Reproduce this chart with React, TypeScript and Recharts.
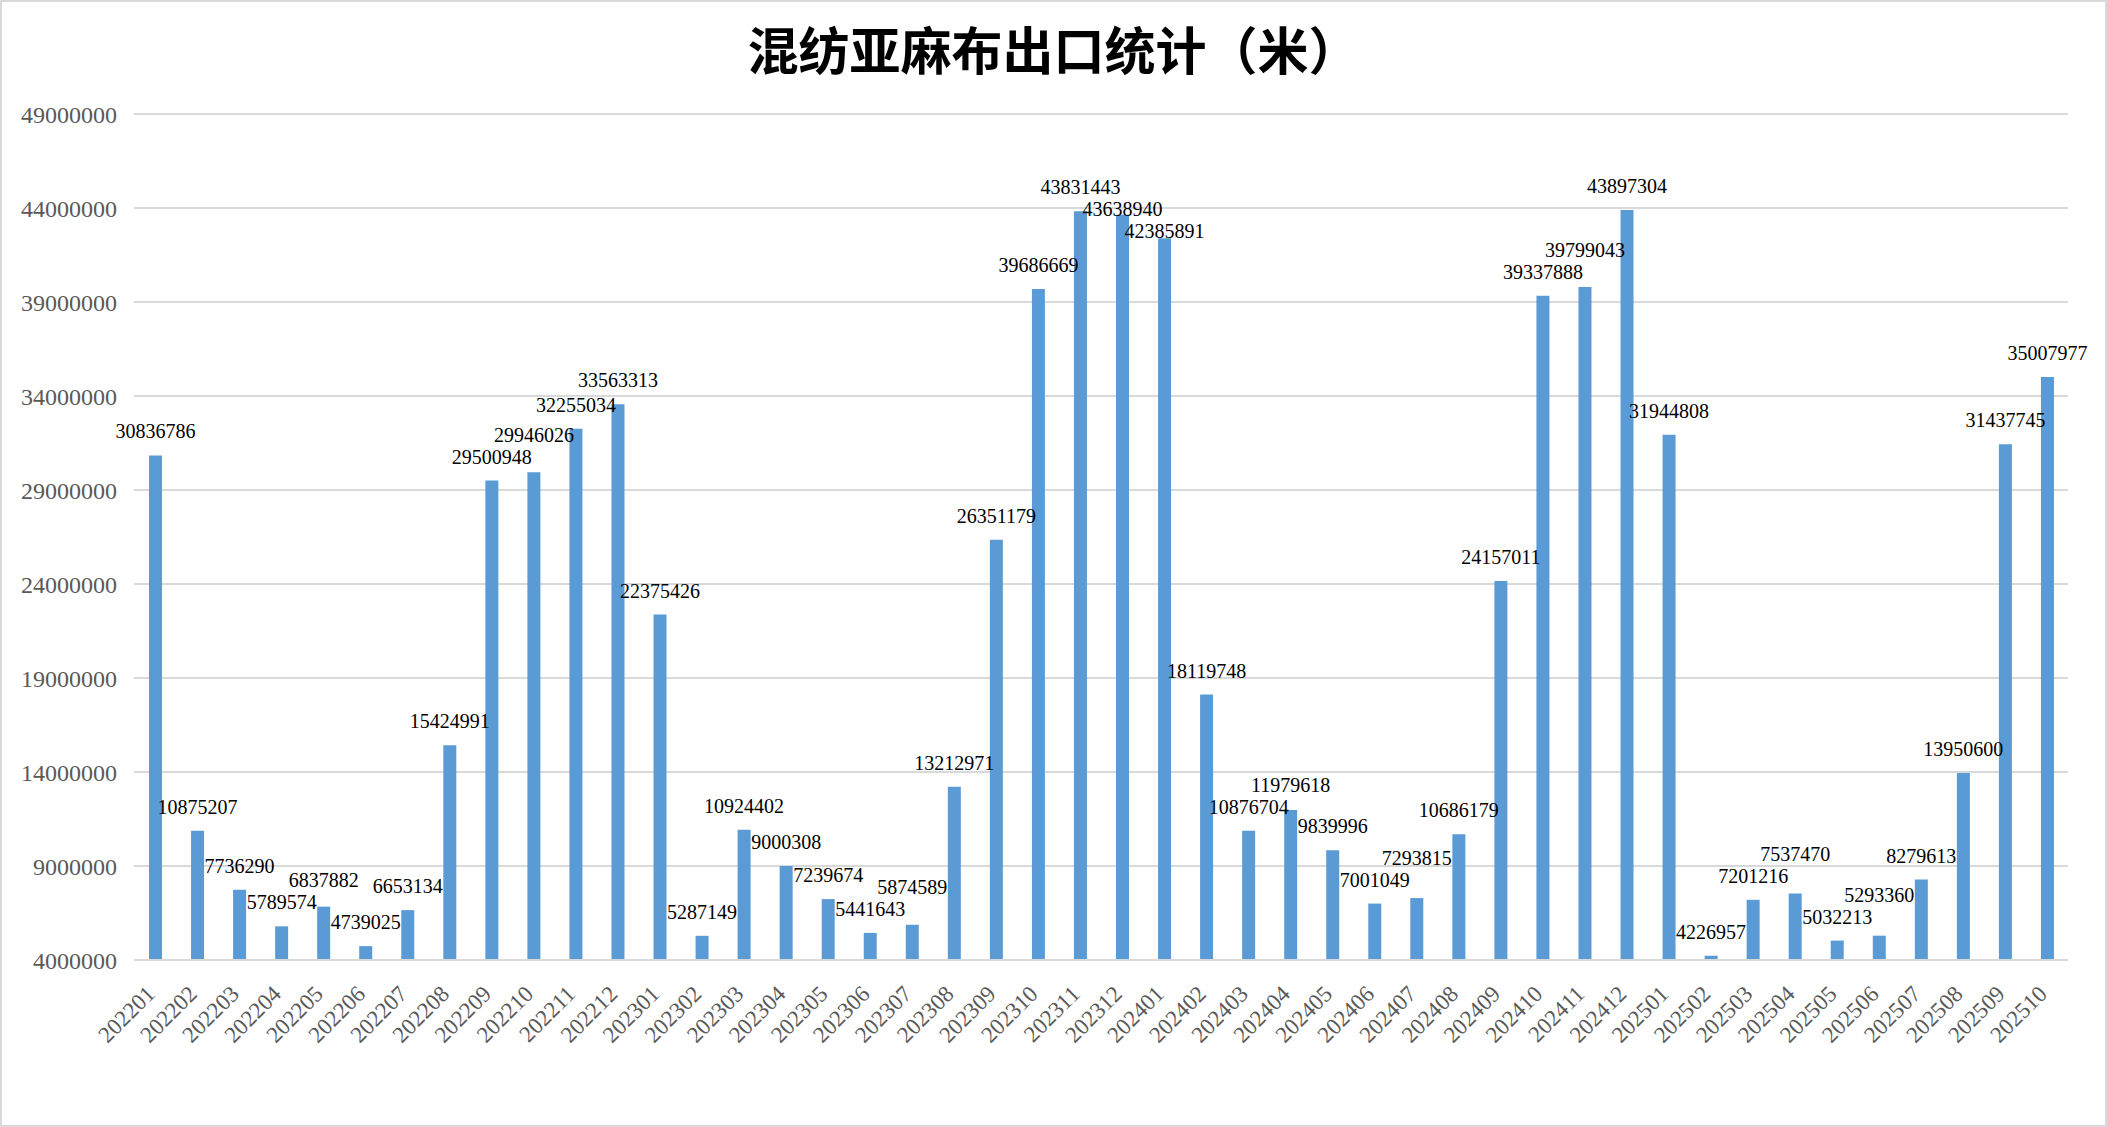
import { Bar, BarChart, CartesianGrid, LabelList, XAxis, YAxis } from "recharts";

const months = [
  "202201", "202202", "202203", "202204", "202205", "202206", "202207", "202208", "202209", "202210", "202211", "202212",
  "202301", "202302", "202303", "202304", "202305", "202306", "202307", "202308", "202309", "202310", "202311", "202312",
  "202401", "202402", "202403", "202404", "202405", "202406", "202407", "202408", "202409", "202410", "202411", "202412",
  "202501", "202502", "202503", "202504", "202505", "202506", "202507", "202508", "202509", "202510",
];

const meters = [
  30836786, 10875207, 7736290, 5789574, 6837882, 4739025, 6653134, 15424991, 29500948, 29946026, 32255034, 33563313,
  22375426, 5287149, 10924402, 9000308, 7239674, 5441643, 5874589, 13212971, 26351179, 39686669, 43831443, 43638940,
  42385891, 18119748, 10876704, 11979618, 9839996, 7001049, 7293815, 10686179, 24157011, 39337888, 39799043, 43897304,
  31944808, 4226957, 7201216, 7537470, 5032213, 5293360, 8279613, 13950600, 31437745, 35007977,
];

const yTicks = [4000000, 9000000, 14000000, 19000000, 24000000, 29000000, 34000000, 39000000, 44000000, 49000000];

const data = months.map((m, i) => ({ m, v: meters[i] }));

const FONT = "'Liberation Serif', serif";
const LABEL_GAP = 24; // label centre above bar top
const LABEL_STEP = 22; // min vertical distance between neighbouring labels

function MonthTick({ x, y, payload }: any) {
  const ax = x - 4;
  const ay = y + 22;
  return (
    <text
      x={ax}
      y={ay}
      transform={`rotate(-45, ${ax}, ${ay})`}
      textAnchor="end"
      dominantBaseline="central"
      fill="#595959"
      fontSize={23}
      fontFamily={FONT}
    >
      {payload.value}
    </text>
  );
}

// nudge a label up or down when it would sit on top of its left neighbour
function makeLabel(placed: number[]) {
  return (p: any) => {
    const { x, y, width, value, index } = p;
    let cy = y - LABEL_GAP;
    const prev = placed[index - 1];
    if (prev !== undefined && Math.abs(cy - prev) < LABEL_STEP) {
      cy = cy < prev ? prev - LABEL_STEP : prev + LABEL_STEP;
    }
    placed[index] = cy;
    return (
      <text
        key={index}
        x={x + width / 2}
        y={cy}
        textAnchor="middle"
        dominantBaseline="central"
        fill="#000"
        fontSize={20}
        fontFamily={FONT}
      >
        {value}
      </text>
    );
  };
}

export default function App() {
  const placed: number[] = [];
  return (
    <div style={{ position: "absolute", left: 0, top: 0, width: 2107, height: 1127, background: "#fff" }}>
      <style>{`body{margin:0}`}</style>
      <div
        style={{
          position: "absolute",
          left: 0,
          top: 0,
          width: 2107,
          height: 1127,
          boxSizing: "border-box",
          border: "2px solid #d9d9d9",
        }}
      />
      <div
        style={{
          position: "absolute",
          left: 0,
          top: 16,
          width: 2107,
          textAlign: "center",
          fontFamily: "'Noto Sans CJK SC', sans-serif",
          fontWeight: 700,
          fontSize: 51,
          lineHeight: "64px",
          color: "#000",
        }}
      >
        混纺亚麻布出口统计（米）
      </div>
      <BarChart
        width={2107}
        height={1127}
        data={data}
        margin={{ top: 114, right: 39, left: 14, bottom: 7 }}
        style={{ position: "absolute", left: 0, top: 0 }}
      >
        <CartesianGrid vertical={false} stroke="#d9d9d9" strokeWidth={2} />
        <XAxis
          dataKey="m"
          interval={0}
          height={160}
          tickLine={false}
          axisLine={{ stroke: "#d9d9d9", strokeWidth: 2 }}
          tick={<MonthTick />}
        />
        <YAxis
          width={120}
          domain={[4000000, 49000000]}
          ticks={yTicks}
          allowDataOverflow
          tickLine={false}
          axisLine={false}
          tickMargin={11}
          tick={{ fill: "#595959", fontSize: 24, fontFamily: FONT }}
        />
        <Bar dataKey="v" fill="#5b9bd5" barSize={13} isAnimationActive={false}>
          <LabelList dataKey="v" content={makeLabel(placed)} />
        </Bar>
      </BarChart>
    </div>
  );
}
